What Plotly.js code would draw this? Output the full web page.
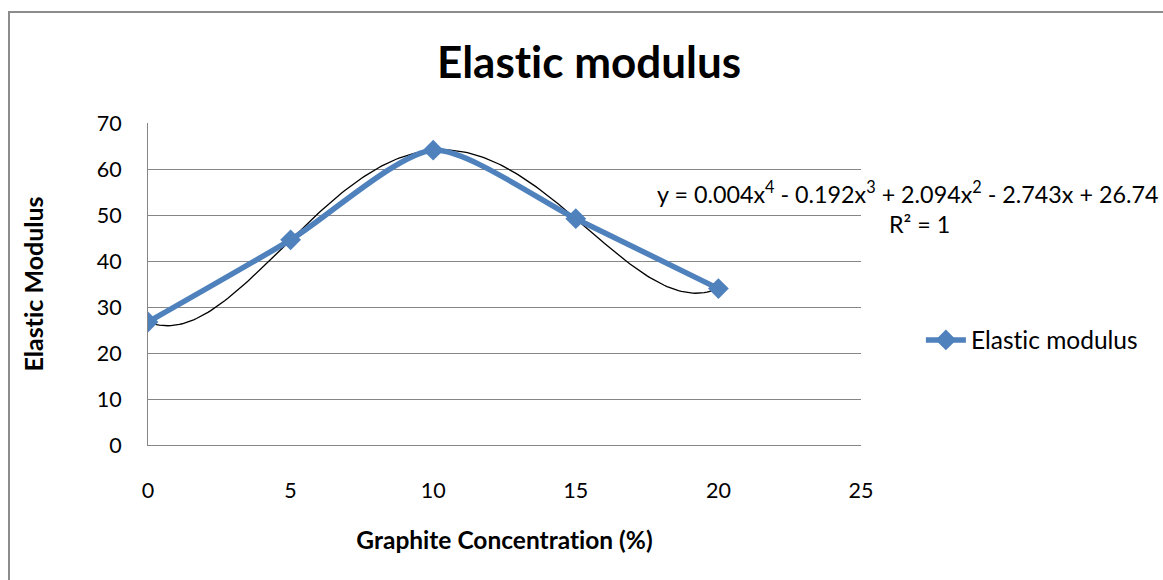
<!DOCTYPE html>
<html>
<head>
<meta charset="utf-8">
<script src="https://cdn.plot.ly/plotly-3.0.1.min.js"></script>
<style>
html,body{margin:0;padding:0;background:#fff;}
#chart{width:1163px;height:580px;}
#chart text{font-variant-ligatures:none !important;font-feature-settings:"liga" 0, "clig" 0 !important;}
</style>
</head>
<body>
<div id="chart"></div>
<script>
// Data
const concentration = [0, 5, 10, 15, 20];
const elasticModulus = [26.74, 44.6, 64.1, 49.2, 34.0];
const seriesName = 'Elastic modulus';
const equationText = 'y = 0.004x<sup>4</sup> - 0.192x<sup>3</sup> + 2.094x<sup>2</sup> - 2.743x + 26.74';
const r2Text = 'R² = 1';

// 4th-order polynomial trendline through the data (R² = 1): Lagrange form
function poly(x) {
  let s = 0;
  for (let i = 0; i < concentration.length; i++) {
    let t = elasticModulus[i];
    for (let j = 0; j < concentration.length; j++) {
      if (j !== i) t *= (x - concentration[j]) / (concentration[i] - concentration[j]);
    }
    s += t;
  }
  return s;
}
const trendX = [], trendY = [];
const xmin = Math.min(...concentration), xmax = Math.max(...concentration);
for (let k = 0; k <= 200; k++) {
  const x = xmin + (xmax - xmin) * k / 200;
  trendX.push(x); trendY.push(poly(x));
}

const FONT = 'Lato, "Open Sans", sans-serif';
const traces = [
  {
    x: trendX, y: trendY, mode: 'lines', type: 'scatter',
    line: {color: '#000000', width: 1.3}, showlegend: false, hoverinfo: 'skip'
  },
  {
    x: concentration, y: elasticModulus, mode: 'lines+markers', type: 'scatter',
    name: seriesName,
    line: {color: '#4F81BD', width: 5.5, shape: 'spline', smoothing: 0.7},
    marker: {symbol: 'diamond', size: 16, color: '#4F81BD'}
  }
];

const layout = {
  width: 1163, height: 580,
  margin: {l: 148, r: 302, t: 123, b: 135},
  paper_bgcolor: '#ffffff', plot_bgcolor: '#ffffff',
  font: {family: FONT, size: 21, color: '#000'},
  title: {
    text: '<b>Elastic modulus</b>', font: {family: FONT, size: 44, color: '#000'},
    xref: 'container', x: 0.5065, xanchor: 'center',
    yref: 'container', y: 1 - 63/580, yanchor: 'middle'
  },
  xaxis: {
    range: [0, 25], dtick: 5, tick0: 0, showgrid: false, zeroline: false,
    showline: true, linecolor: '#868686', linewidth: 1,
    ticks: '', ticklabelstandoff: 26,
    tickfont: {family: FONT, size: 21.5, color: '#000'},
    title: {text: '<b>Graphite Concentration (%)</b>', font: {family: FONT, size: 24.5, color: '#000'}, standoff: 30}
  },
  yaxis: {
    range: [0, 70], dtick: 10, tick0: 0, showgrid: true, gridcolor: '#868686', gridwidth: 1,
    zeroline: false, showline: true, linecolor: '#868686', linewidth: 1,
    ticks: '', ticklabelstandoff: 21,
    tickfont: {family: FONT, size: 21.5, color: '#000'},
    title: {text: '<b>Elastic Modulus</b>', font: {family: FONT, size: 25, color: '#000'}, standoff: 45}
  },
  showlegend: true,
  legend: {
    x: 1.084, xanchor: 'left', y: (445 - 340) / 322, yanchor: 'middle',
    font: {family: FONT, size: 24.5, color: '#000'}, bgcolor: 'rgba(0,0,0,0)', itemwidth: 40
  },
  annotations: [
    {
      xref: 'paper', yref: 'paper', x: (907 - 148) / 713, y: (445 - 192) / 322,
      xanchor: 'center', yanchor: 'middle', showarrow: false,
      text: equationText, font: {family: FONT, size: 23.3, color: '#000'}
    },
    {
      xref: 'paper', yref: 'paper', x: (919 - 148) / 713, y: (445 - 224) / 322,
      xanchor: 'center', yanchor: 'middle', showarrow: false,
      text: r2Text, font: {family: FONT, size: 23.3, color: '#000'}
    }
  ],
  shapes: [
    {
      type: 'rect', xref: 'paper', yref: 'paper',
      x0: (9 - 148) / 713, x1: 2, y0: -1, y1: (445 - 12) / 322,
      line: {color: '#8c8c8c', width: 2}, fillcolor: 'rgba(0,0,0,0)', layer: 'below'
    }
  ]
};

Plotly.newPlot('chart', traces, layout, {displayModeBar: false, staticPlot: true});
</script>
</body>
</html>
